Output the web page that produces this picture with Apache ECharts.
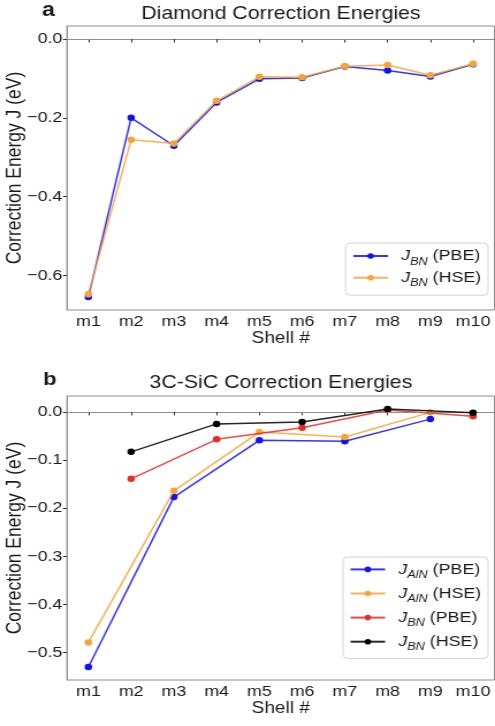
<!DOCTYPE html>
<html>
<head>
<meta charset="utf-8">
<script src="https://cdn.jsdelivr.net/npm/echarts@6/dist/echarts.min.js"></script>
<style>
  html, body { margin: 0; padding: 0; background: #ffffff; overflow: hidden; }
  #wrap { width: 495px; height: 726px; overflow: hidden; }
  #main { width: 430px; height: 726px; transform: scaleX(1.1512); transform-origin: 0 0; }
</style>
</head>
<body>
<div id="wrap"><div id="main"></div></div>
<script>
// ---- data ----
const shells = ['m1', 'm2', 'm3', 'm4', 'm5', 'm6', 'm7', 'm8', 'm9', 'm10'];
const diamondPBE = [-0.655, -0.200, -0.271, -0.161, -0.101, -0.099, -0.070, -0.080, -0.095, -0.064];
const diamondHSE = [-0.648, -0.256, -0.265, -0.157, -0.096, -0.097, -0.069, -0.066, -0.092, -0.063];
const sicShellsAlN = ['m1', 'm3', 'm5', 'm7', 'm9'];
const sicAlnPBE = [-0.530, -0.177, -0.059, -0.061, -0.015];
const sicAlnHSE = [-0.479, -0.164, -0.042, -0.052, -0.001];
const sicShellsBN = ['m2', 'm4', 'm6', 'm8', 'm10'];
const sicBnPBE = [-0.139, -0.057, -0.033, 0.004, -0.009];
const sicBnHSE = [-0.083, -0.025, -0.021, 0.006, -0.002];
const yTicksA = [-0.6, -0.4, -0.2, 0.0];
const yTicksB = [-0.5, -0.4, -0.3, -0.2, -0.1, 0.0];
const yRangeA = [-0.688, 0.033];
const yRangeB = [-0.557, 0.033];

const F = '"Liberation Sans", Arial, Helvetica, sans-serif';
const TXT = '#1a1a1a';
const C_BLUE = '#1010ff', C_ORANGE = '#f7a532', C_RED = '#ee2a22', C_BLACK = '#000000';

const chart = echarts.init(document.getElementById('main'), null, { renderer: 'canvas' });

function pairs(xs, ys) { return xs.map((x, i) => [x, ys[i]]); }
function fmtTick(v) {
  const s = Math.abs(v) < 1e-9 ? '0.0' : Math.abs(v).toFixed(1);
  return (v < -1e-9 ? '\u2212' : '') + s;
}

function xAxisCfg(gi) {
  return {
    type: 'category', gridIndex: gi, data: shells, boundaryGap: true,
    axisLine: { show: true, lineStyle: { color: '#8c8c8c', width: 1 } },
    axisTick: { show: true, alignWithLabel: true, length: 3.5, lineStyle: { color: '#333', width: 1 } },
    axisLabel: { interval: 0, margin: 4, fontSize: 15.5, color: TXT, fontFamily: F },
    splitLine: { show: false },
    name: 'Shell #', nameLocation: 'middle', nameGap: 20, nameMoveOverlap: false,
    nameTextStyle: { fontSize: 16.5, color: TXT, fontFamily: F }
  };
}
function yAxisCfg(gi, range, ticks) {
  return {
    type: 'value', gridIndex: gi, min: range[0], max: range[1],
    axisLine: { show: true, lineStyle: { color: '#8c8c8c', width: 1 } },
    axisTick: { show: true, length: 3.5, customValues: ticks, lineStyle: { color: '#333', width: 1 } },
    axisLabel: {
      margin: 4, fontSize: 15.5, color: TXT, fontFamily: F, customValues: ticks,
      formatter: v => (ticks.some(t => Math.abs(t - v) < 1e-6) ? fmtTick(v) : '')
    },
    splitLine: { show: false },
    name: 'Correction Energy J (eV)', nameLocation: 'middle', nameGap: 36, nameMoveOverlap: false,
    nameTextStyle: { fontSize: 17.5, color: TXT, fontFamily: F }
  };
}
function lineSeries(name, gi, data, color, z) {
  return {
    name: name, type: 'line', xAxisIndex: gi, yAxisIndex: gi, data: data,
    color: color, symbol: 'circle', symbolSize: 6.5, showSymbol: true,
    lineStyle: { width: 1.5, opacity: 0.85, color: color },
    itemStyle: { color: color },
    emphasis: { disabled: true }, z: z, animation: false
  };
}
const zeroLine = {
  silent: true, symbol: 'none', label: { show: false },
  lineStyle: { type: [3.6, 2.7], color: '#909090', width: 1, opacity: 1 },
  emphasis: { disabled: true },
  data: [{ yAxis: 0 }]
};

const legendRich = {
  j: { fontStyle: 'italic', fontSize: 15.5, lineHeight: 22, padding: [0, 0, 0, 6.5], color: TXT, fontFamily: F },
  s: { fontStyle: 'italic', fontSize: 11, lineHeight: 11, verticalAlign: 'bottom', color: TXT, fontFamily: F },
  t: { fontSize: 15.5, lineHeight: 22, color: TXT, fontFamily: F }
};
function legendFmt(name) {
  const m = name.match(/^[ab]:J_(\w+) (.*)$/);
  return '{j|J}{s|' + m[1] + '}{t| ' + m[2] + '}';
}
function legendCfg(names, top, padding, gap) {
  return {
    data: names, orient: 'vertical', right: 6, top: top,
    padding: padding, itemGap: gap, itemWidth: 30, itemHeight: 7,
    backgroundColor: '#ffffff', borderColor: '#d4d4d4', borderWidth: 1, borderRadius: 4,
    selectedMode: false, formatter: legendFmt,
    textStyle: { color: TXT, fontFamily: F, fontSize: 15.5, rich: legendRich }
  };
}

const sA = [
  lineSeries('a:J_BN (PBE)', 0, pairs(shells, diamondPBE), C_BLUE, 2),
  lineSeries('a:J_BN (HSE)', 0, pairs(shells, diamondHSE), C_ORANGE, 3)
];
sA[0].markLine = zeroLine;
const sB = [
  lineSeries('b:J_AlN (PBE)', 1, pairs(sicShellsAlN, sicAlnPBE), C_BLUE, 2),
  lineSeries('b:J_AlN (HSE)', 1, pairs(sicShellsAlN, sicAlnHSE), C_ORANGE, 3),
  lineSeries('b:J_BN (PBE)', 1, pairs(sicShellsBN, sicBnPBE), C_RED, 4),
  lineSeries('b:J_BN (HSE)', 1, pairs(sicShellsBN, sicBnHSE), C_BLACK, 5)
];
sB[0].markLine = zeroLine;

const option = {
  animation: false,
  backgroundColor: '#ffffff',
  textStyle: { fontFamily: F },
  grid: [
    { left: 58.2, right: 0.5, top: 26, height: 284, show: true, borderColor: '#8c8c8c', borderWidth: 1, outerBoundsMode: 'none', containLabel: false },
    { left: 58.2, right: 0.5, top: 396, height: 284, show: true, borderColor: '#8c8c8c', borderWidth: 1, outerBoundsMode: 'none', containLabel: false }
  ],
  xAxis: [xAxisCfg(0), xAxisCfg(1)],
  yAxis: [yAxisCfg(0, yRangeA, yTicksA), yAxisCfg(1, yRangeB, yTicksB)],
  legend: [
    legendCfg(['a:J_BN (PBE)', 'a:J_BN (HSE)'], 243, [5, 6, 6.5, 5.8], 2.7),
    legendCfg(['b:J_AlN (PBE)', 'b:J_AlN (HSE)', 'b:J_BN (PBE)', 'b:J_BN (HSE)'], 557, [4.4, 6, 5.7, 5.5], 5.1)
  ],
  graphic: [
    { type: 'text', x: 244, y: 14, silent: true, style: { text: 'Diamond Correction Energies', fontSize: 18.5, fontFamily: F, fill: TXT, align: 'center', verticalAlign: 'middle' } },
    { type: 'text', x: 244, y: 383, silent: true, style: { text: '3C-SiC Correction Energies', fontSize: 18.5, fontFamily: F, fill: TXT, align: 'center', verticalAlign: 'middle' } },
    { type: 'text', x: 36.5, y: 10.5, silent: true, style: { text: 'a', fontSize: 20, fontWeight: 'bold', fontFamily: F, fill: TXT, align: 'left', verticalAlign: 'middle' } },
    { type: 'text', x: 37.5, y: 379.5, silent: true, style: { text: 'b', fontSize: 19, fontWeight: 'bold', fontFamily: F, fill: TXT, align: 'left', verticalAlign: 'middle' } }
  ],
  series: sA.concat(sB)
};
chart.setOption(option);
</script>
</body>
</html>
